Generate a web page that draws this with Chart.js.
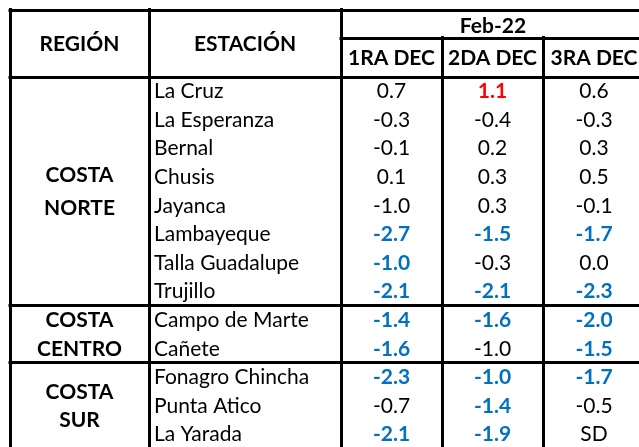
<!DOCTYPE html>
<html>
<head>
<meta charset="utf-8">
<script src="https://cdn.jsdelivr.net/npm/chart.js@4.4.0/dist/chart.umd.min.js"></script>
<style>
  html, body { margin: 0; padding: 0; background: #ffffff; }
  #wrap { width: 639px; height: 447px; }
</style>
</head>
<body>
<div id="wrap"><canvas id="tabla" width="639" height="447"></canvas></div>
<script>
// ---- data ----
const MONTH = 'Feb-22'
const DECADES = ['1RA DEC', '2DA DEC', '3RA DEC']
const REGIONS = [['COSTA', 'NORTE'], ['COSTA', 'CENTRO'], ['COSTA', 'SUR']]
const REGION_ROWS = [8, 2, 3]
const STATIONS = [
  'La Cruz', 'La Esperanza', 'Bernal', 'Chusis', 'Jayanca', 'Lambayeque',
  'Talla Guadalupe', 'Trujillo', 'Campo de Marte', 'Cañete',
  'Fonagro Chincha', 'Punta Atico', 'La Yarada'
]
const DEC1 = [0.7, -0.3, -0.1, 0.1, -1.0, -2.7, -1.0, -2.1, -1.4, -1.6, -2.3, -0.7, -2.1]
const DEC2 = [1.1, -0.4, 0.2, 0.3, 0.3, -1.5, -0.3, -2.1, -1.6, -1.0, -1.0, -1.4, -1.9]
const DEC3 = [0.6, -0.3, 0.3, 0.5, -0.1, -1.7, 0.0, -2.3, -2.0, -1.5, -1.7, -0.5, null]
// n = normal, b = bajo (blue), a = alto (red)
const FLAG1 = ['n', 'n', 'n', 'n', 'n', 'b', 'b', 'b', 'b', 'b', 'b', 'n', 'b']
const FLAG2 = ['a', 'n', 'n', 'n', 'n', 'b', 'n', 'b', 'b', 'n', 'b', 'b', 'b']
const FLAG3 = ['n', 'n', 'n', 'n', 'n', 'b', 'n', 'b', 'b', 'b', 'b', 'n', 'n']
const MISSING = 'SD'

// ---- layout ----
const COL_EDGES = [10, 149, 341, 442, 543, 645]
const TOP_Y = -2.34
const SUB_Y = -1.36
const REGION_GAP = [1.15, 1.02, 1.0]
const FONT = 'Lato, "Open Sans", sans-serif'
const FONT_SIZE = 21
const BASE_OFF = 7.5
const BLUE = '#0070C0'
const RED = '#FF0000'

const VALUES = [DEC1, DEC2, DEC3]
const FLAGS = [FLAG1, FLAG2, FLAG3]

function colCenter(c) {
  return (COL_EDGES[c] + COL_EDGES[c + 1]) / 2
}

const datasets = VALUES.map((vals, j) => ({
  label: DECADES[j],
  data: vals.map((v, i) => ({ x: colCenter(j + 2), y: i + 0.5 })),
  pointRadius: 0
}))

datasets.push({
  label: 'stations',
  data: STATIONS.map((s, i) => ({ x: COL_EDGES[1] + 5, y: i + 0.5 })),
  pointRadius: 0
})

const tablePlugin = {
  id: 'tablePlugin',
  afterDatasetsDraw(chart) {
    const ctx = chart.ctx
    const xs = chart.scales.x
    const ys = chart.scales.y
    const px = v => xs.getPixelForValue(v)
    const py = v => ys.getPixelForValue(v)
    const nRows = STATIONS.length

    ctx.save()
    ctx.strokeStyle = '#000000'
    ctx.lineWidth = 3
    ctx.lineCap = 'square'

    function hline(y, x0, x1) {
      ctx.beginPath()
      ctx.moveTo(px(x0), Math.round(py(y)) + 0.5)
      ctx.lineTo(px(x1), Math.round(py(y)) + 0.5)
      ctx.stroke()
    }
    function vline(x, y0, y1) {
      ctx.beginPath()
      ctx.moveTo(Math.round(px(x)) + 0.5, py(y0))
      ctx.lineTo(Math.round(px(x)) + 0.5, py(y1))
      ctx.stroke()
    }

    const first = COL_EDGES[0]
    const last = COL_EDGES[COL_EDGES.length - 1]
    hline(TOP_Y, first, last)
    hline(SUB_Y, COL_EDGES[2], last)
    hline(0, first, last)
    let acc = 0
    REGION_ROWS.forEach(n => {
      acc += n
      hline(acc, first, last)
    })
    vline(COL_EDGES[0], TOP_Y, nRows)
    vline(COL_EDGES[1], TOP_Y, nRows)
    vline(COL_EDGES[2], TOP_Y, nRows)
    for (let c = 3; c < COL_EDGES.length; c++) {
      vline(COL_EDGES[c], SUB_Y, nRows)
    }

    // header text
    ctx.fillStyle = '#000000'
    ctx.textAlign = 'center'
    ctx.textBaseline = 'alphabetic'
    ctx.font = 'bold ' + FONT_SIZE + 'px ' + FONT
    const hMid = py(TOP_Y / 2) + BASE_OFF
    ctx.fillText('REGIÓN', px(colCenter(0)), hMid)
    ctx.fillText('ESTACIÓN', px(colCenter(1)), hMid)
    ctx.fillText(MONTH, px((COL_EDGES[2] + last) / 2), py((TOP_Y + SUB_Y) / 2) + BASE_OFF + 1.5)
    DECADES.forEach((d, j) => {
      ctx.fillText(d, px(colCenter(j + 2)), py(SUB_Y / 2) + BASE_OFF)
    })

    // regions
    let start = 0
    REGIONS.forEach((lines, r) => {
      const mid = start + REGION_ROWS[r] / 2
      lines.forEach((t, k) => {
        const off = (k - (lines.length - 1) / 2) * REGION_GAP[r]
        ctx.fillText(t, px(colCenter(0)), py(mid + off) + BASE_OFF)
      })
      start += REGION_ROWS[r]
    })

    // stations
    const stMeta = chart.getDatasetMeta(VALUES.length)
    ctx.textAlign = 'left'
    ctx.font = FONT_SIZE + 'px ' + FONT
    STATIONS.forEach((s, i) => {
      const el = stMeta.data[i]
      ctx.fillText(s, el.x, el.y + BASE_OFF)
    })

    // values
    ctx.textAlign = 'center'
    VALUES.forEach((vals, j) => {
      const meta = chart.getDatasetMeta(j)
      vals.forEach((v, i) => {
        const el = meta.data[i]
        const f = FLAGS[j][i]
        ctx.font = (f === 'n' ? '' : 'bold ') + FONT_SIZE + 'px ' + FONT
        ctx.fillStyle = f === 'b' ? BLUE : f === 'a' ? RED : '#000000'
        const txt = v === null ? MISSING : v.toFixed(1)
        ctx.fillText(txt, el.x, el.y + BASE_OFF)
      })
    })
    ctx.restore()
  }
}

new Chart(document.getElementById('tabla'), {
  type: 'scatter',
  data: { datasets },
  options: {
    responsive: false,
    animation: false,
    devicePixelRatio: 1,
    layout: { padding: 0 },
    plugins: {
      legend: { display: false },
      tooltip: { enabled: false }
    },
    scales: {
      x: { type: 'linear', min: 0, max: 639, display: false },
      y: { type: 'linear', min: -2.675, max: 12.955, reverse: true, display: false }
    }
  },
  plugins: [tablePlugin]
})
</script>
</body>
</html>
